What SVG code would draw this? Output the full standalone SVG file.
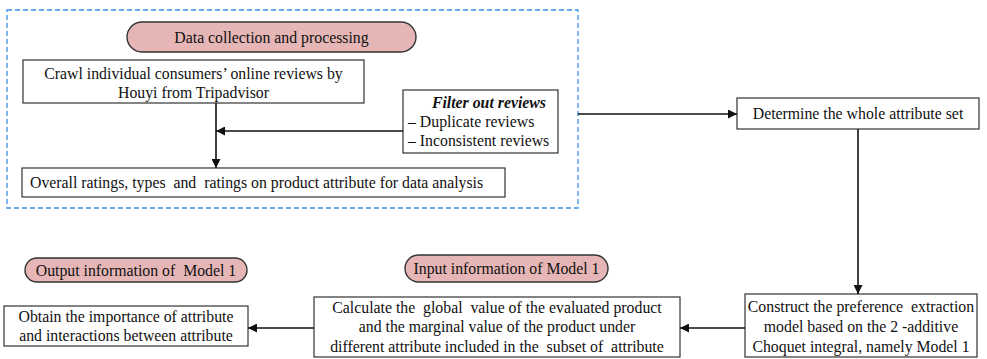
<svg xmlns="http://www.w3.org/2000/svg" width="987" height="359" viewBox="0 0 987 359">
<style>
text{font-family:"Liberation Serif","Times New Roman",serif;font-size:15.8px;fill:#111;white-space:pre}
.box{fill:#fff;stroke:#333;stroke-width:1.2}
.pill{fill:#e6b6b6;stroke:#333;stroke-width:1.4}
.ln{stroke:#111;stroke-width:1.6;fill:none}
.c{text-anchor:middle}
</style>
<defs>
<marker id="ah" viewBox="0 0 10 10" refX="10" refY="5" markerWidth="9" markerHeight="9" markerUnits="userSpaceOnUse" orient="auto">
<path d="M0,0 L10,5 L0,10 z" fill="#111"/>
</marker>
</defs>
<rect x="7" y="10" width="571" height="198" fill="none" stroke="#3b8ee6" stroke-width="1.3" stroke-dasharray="5,3"/>
<g id="pill-data">
<rect class="pill" x="127" y="22" width="289" height="30" rx="15"/>
<text class="c" x="271.5" y="43">Data collection and processing</text>
</g>
<g id="crawl">
<rect class="box" x="23" y="60" width="341" height="43"/>
<text class="c" x="193.5" y="79">Crawl individual consumers’ online reviews by</text>
<text class="c" x="193.5" y="98">Houyi from Tripadvisor</text>
</g>
<g id="filter">
<rect class="box" x="403" y="90" width="155" height="63"/>
<text x="546" y="108" text-anchor="end" font-weight="bold" font-style="italic">Filter out reviews</text>
<text x="408" y="127">– Duplicate reviews</text>
<text x="408" y="146">– Inconsistent reviews</text>
</g>
<g id="overall">
<rect class="box" x="22" y="168" width="483" height="29"/>
<text x="30" y="188">Overall ratings, types  and  ratings on product attribute for data analysis</text>
</g>
<g id="determine">
<rect class="box" x="737" y="98" width="242" height="31"/>
<text class="c" x="858" y="119">Determine the whole attribute set</text>
</g>
<g id="construct">
<rect class="box" x="745" y="294" width="232" height="63"/>
<text class="c" x="861" y="312">Construct the preference  extraction</text>
<text class="c" x="861" y="332">model based on the 2 -additive</text>
<text class="c" x="861" y="352">Choquet integral, namely Model 1</text>
</g>
<g id="pill-input">
<rect class="pill" x="405" y="255" width="203" height="27" rx="13.5"/>
<text class="c" x="506.5" y="274">Input information of Model 1</text>
</g>
<g id="calculate">
<rect class="box" x="314" y="297" width="366" height="60"/>
<text class="c" x="497" y="313">Calculate the  global  value of the evaluated product</text>
<text class="c" x="497" y="332">and the marginal value of the product under</text>
<text class="c" x="497" y="352">different attribute included in the  subset of  attribute</text>
</g>
<g id="pill-output">
<rect class="pill" x="25" y="258" width="222" height="24" rx="12"/>
<text class="c" x="136" y="276">Output information of  Model 1</text>
</g>
<g id="obtain">
<rect class="box" x="4" y="306" width="244" height="40"/>
<text class="c" x="126" y="322">Obtain the importance of attribute</text>
<text class="c" x="126" y="341">and interactions between attribute</text>
</g>
<g id="connectors">
<line class="ln" x1="216" y1="103" x2="216" y2="168" marker-end="url(#ah)"/>
<line class="ln" x1="403" y1="131" x2="216" y2="131" marker-end="url(#ah)"/>
<line class="ln" x1="578" y1="114" x2="737" y2="114" marker-end="url(#ah)"/>
<line class="ln" x1="858" y1="129" x2="858" y2="294" marker-end="url(#ah)"/>
<line class="ln" x1="745" y1="328" x2="680" y2="328" marker-end="url(#ah)"/>
<line class="ln" x1="314" y1="328" x2="248" y2="328" marker-end="url(#ah)"/>
</g>
</svg>
